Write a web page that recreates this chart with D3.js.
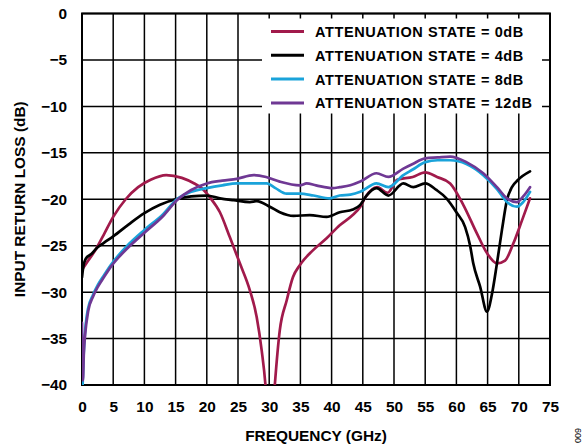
<!DOCTYPE html>
<html>
<head>
  <meta charset="utf-8">
  <title>input return loss</title>
  <style>
    body {margin:0; background:#fff;}
    svg.rl text {font-family: Arial, "Liberation Sans", sans-serif; font-weight:bold; fill:#000;}
    svg.rl g.grid line {stroke:#000; stroke-width:1.5;}
    svg.rl path.curve {fill:none; stroke-width:2.7; stroke-linejoin:round; stroke-linecap:round;}
  </style>
</head>
<body>
<script src="https://cdn.jsdelivr.net/npm/d3@7"></script>
<script>
  // frequency (GHz), return loss (dB)
  var state0 = [
    [0,-27.6],[1,-26.6],[2.3,-25.3],[3.5,-23.8],[5,-21.9],[7,-20],[9,-18.7],[11,-17.9],[13.5,-17.4],
    [16,-17.7],[18,-18.3],[19,-18.7],[20.5,-19.8],[22.1,-21.4],[23.7,-24.1],[25.3,-26.9],
    [26.9,-29.8],[28,-32.7],[28.8,-36.3],[29.4,-40],[30.1,-48],[30.9,-40],[31.7,-34.1],
    [32.8,-30.9],[33.8,-28.4],[34.9,-27.1],[37,-25.5],[39.2,-24.2],[41.3,-22.8],[43.2,-21.8],
    [44.6,-20.8],[45.4,-19.8],[47.3,-18.7],[49,-19.3],[50.5,-17.9],[53,-17.6],[55,-17.1],
    [56.9,-17.6],[59,-18.3],[61.1,-20.6],[63.3,-23.7],[64.9,-25.8],[66.5,-26.9],[67.8,-26.6],
    [69.1,-24.8],[70.5,-22.3],[71.8,-19.9]
  ];
  var state4 = [
    [0,-28.4],[0.2,-27.3],[0.6,-26.4],[1.5,-25.9],[2.3,-25.3],[3.5,-24.7],[5,-24],[7.5,-22.7],[10,-21.5],
    [12.5,-20.6],[15,-20],[17.5,-19.7],[20,-19.6],[22.1,-19.9],[24.3,-20.1],[26.9,-20.3],
    [28,-20.2],[30.1,-20.8],[31.7,-21.4],[33.9,-21.8],[36.5,-21.7],[39.2,-21.9],[41.3,-21.4],
    [43.4,-21.1],[44.6,-20.6],[45.6,-19.6],[47.2,-18.8],[49.1,-19.6],[51.5,-18.3],[53.1,-18.7],
    [55,-18.3],[56.8,-19],[58.4,-19.9],[60,-21.4],[61.4,-23],[62.2,-25],[62.7,-26.9],
    [63.8,-29.4],[64.9,-32.1],[65.7,-30.2],[66.5,-26.9],[67.3,-23.3],[68.1,-20.1],
    [68.9,-18.7],[69.9,-17.9],[71.8,-17]
  ];
  var state8 = [
    [0.1,-40],[0.25,-37],[0.43,-34.8],[0.96,-31.8],[1.76,-30.3],[2.56,-29.2],[3.5,-28.2],[4.7,-27],
    [7.4,-24.9],[10,-23.3],[13,-21.6],[15.2,-20],[17.5,-19.2],[20,-18.8],[22.5,-18.5],[24.8,-18.3],
    [27.5,-18.3],[29.6,-18.3],[31,-18.8],[32.8,-19.4],[34.9,-19.4],[37.1,-19.6],[39.7,-19.9],
    [41.3,-19.6],[43,-19.5],[44.6,-19.2],[47.2,-18.3],[49.1,-18.7],[51.5,-17.4],[53,-16.8],
    [55,-16],[57,-15.8],[59,-15.8],[61.6,-16.2],[64.3,-17.4],[66.5,-18.9],[68.1,-20.3],
    [69.7,-20.8],[70.7,-20.3],[71.8,-19.2]
  ];
  var state12 = [
    [0,-33.3],[0.15,-39.5],[0.3,-36.5],[0.5,-34.6],[1,-32],[1.76,-30.5],[2.56,-29.4],[3.5,-28.4],
    [4.7,-27.2],[7.4,-25.2],[10,-23.6],[13,-21.8],[15.2,-20.1],[17.5,-19],[20,-18.3],[22.5,-18],
    [24.8,-17.8],[27.5,-17.4],[29.5,-17.6],[31.7,-18.1],[34.9,-18.5],[36,-18.3],[37.5,-18.5],
    [40.2,-18.8],[41.3,-18.7],[43,-18.5],[44.6,-18.1],[47.2,-17.2],[49.1,-17.6],[51.5,-16.7],
    [53,-16.2],[55,-15.6],[57,-15.5],[59,-15.4],[61.6,-16],[64.3,-17.2],[66.5,-18.7],
    [68.1,-19.9],[69.7,-20.3],[70.7,-19.7],[71.8,-18.7]
  ];

  var seriesNames = ['ATTENUATION STATE = 0dB', 'ATTENUATION STATE = 4dB',
                     'ATTENUATION STATE = 8dB', 'ATTENUATION STATE = 12dB'];
  var seriesData = [state0, state4, state8, state12];
  var seriesColors = ['#a11a4b', '#000000', '#1aa3da', '#6f3894'];

  var xTicks = d3.range(0, 76, 5);
  var yTicks = d3.range(0, -41, -5);

  var width = 585,
      height = 446,
      pLeft = 82, pRight = 550,
      pTop = 13.5, pBottom = 385;

  var x = d3.scaleLinear().domain([0, 75]).range([pLeft, pRight]);
  var y = d3.scaleLinear().domain([0, -40]).range([pTop, pBottom]);

  var svg = d3.select('body')
    .append('svg')
    .attr('class', 'rl')
    .attr('width', width)
    .attr('height', height);

  svg.append('defs')
    .append('clipPath')
    .attr('id', 'plot')
      .append('rect')
      .attr('x', pLeft)
      .attr('y', pTop)
      .attr('width', pRight - pLeft)
      .attr('height', pBottom - pTop);

  // grid
  var grid = svg.append('g').attr('class', 'grid');

  grid.selectAll('line.v')
    .data(xTicks)
    .enter().append('line')
    .attr('class', 'v')
    .attr('x1', function(d){ return x(d) })
    .attr('x2', function(d){ return x(d) })
    .attr('y1', pTop)
    .attr('y2', pBottom);

  grid.selectAll('line.h')
    .data(yTicks)
    .enter().append('line')
    .attr('class', 'h')
    .attr('x1', pLeft)
    .attr('x2', pRight)
    .attr('y1', function(d){ return y(d) })
    .attr('y2', function(d){ return y(d) });

  // legend box hides the grid behind it, short stubs stay visible
  svg.append('rect')
    .attr('x', 262)
    .attr('y', 18.5)
    .attr('width', 280)
    .attr('height', 95)
    .attr('fill', '#fff');

  svg.append('rect')
    .attr('x', pLeft)
    .attr('y', pTop)
    .attr('width', pRight - pLeft)
    .attr('height', pBottom - pTop)
    .attr('fill', 'none')
    .attr('stroke', '#000')
    .attr('stroke-width', 2);

  // axes (labels only, grid does the lines)
  var xAxis = svg.append('g')
    .attr('transform', 'translate(0,' + pBottom + ')')
    .call(d3.axisBottom(x).tickValues(xTicks).tickSize(0).tickPadding(16));
  xAxis.select('.domain').remove();
  xAxis.selectAll('text')
    .style('font-size', '15.4px')
    .style('font-family', 'Arial, "Liberation Sans", sans-serif')
    .style('font-weight', 'bold')
    .attr('fill', '#000');

  var yAxis = svg.append('g')
    .attr('transform', 'translate(' + pLeft + ',0)')
    .call(d3.axisLeft(y).tickValues(yTicks).tickSize(0).tickPadding(15)
      .tickFormat(function(d){ return d === 0 ? '0' : '\u2212' + Math.abs(d) }));
  yAxis.select('.domain').remove();
  yAxis.selectAll('text')
    .style('font-size', '15.4px')
    .style('font-family', 'Arial, "Liberation Sans", sans-serif')
    .style('font-weight', 'bold')
    .attr('fill', '#000');

  svg.append('text')
    .text('FREQUENCY (GHz)')
    .attr('x', (pLeft + pRight) / 2)
    .attr('y', 441)
    .attr('text-anchor', 'middle')
    .style('font-size', '15.4px');

  svg.append('text')
    .text('INPUT RETURN LOSS (dB)')
    .attr('transform', 'translate(25,' + (pTop + pBottom) / 2 + ') rotate(-90)')
    .attr('text-anchor', 'middle')
    .style('font-size', '15.4px');

  svg.append('text')
    .text('009')
    .attr('transform', 'translate(581,443) rotate(-90)')
    .style('font-size', '9px')
    .style('font-weight', 'normal')
    .attr('fill', '#444');

  // curves
  var line = d3.line()
    .x(function(d){ return x(d[0]) })
    .y(function(d){ return y(d[1]) })
    .curve(d3.curveMonotoneX);

  svg.append('g')
    .attr('clip-path', 'url(#plot)')
    .selectAll('path')
    .data(seriesData)
    .enter().append('path')
    .attr('class', 'curve')
    .attr('stroke', function(d, i){ return seriesColors[i] })
    .attr('d', line);

  // legend
  var legend = svg.append('g')
    .selectAll('g')
    .data(seriesNames)
    .enter().append('g')
    .attr('transform', function(d, i){ return 'translate(271,' + (31.5 + i * 23.8) + ')' });

  legend.append('line')
    .attr('x1', 0)
    .attr('x2', 33)
    .attr('stroke', function(d, i){ return seriesColors[i] })
    .attr('stroke-width', 3);

  legend.append('text')
    .text(function(d){ return d })
    .attr('x', 44)
    .attr('y', 5.5)
    .style('font-size', '14.5px')
    .style('letter-spacing', '0.6px');
</script>
</body>
</html>
